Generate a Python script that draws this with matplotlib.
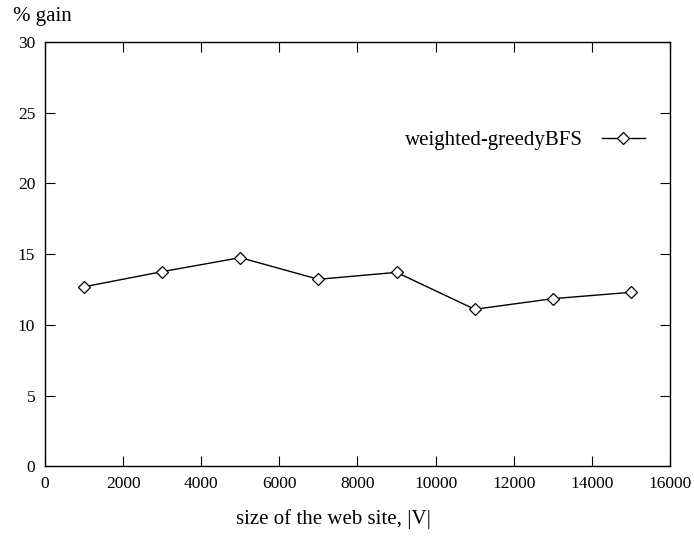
import matplotlib
matplotlib.use("Agg")
import matplotlib.pyplot as plt

sizes = [1000, 3000, 5000, 7000, 9000, 11000, 13000, 15000]
gain = [12.7, 13.77, 14.76, 13.23, 13.72, 11.11, 11.86, 12.31]
xticks = [0, 2000, 4000, 6000, 8000, 10000, 12000, 14000, 16000]
yticks = [0, 5, 10, 15, 20, 25, 30]

plt.rcParams['font.family'] = ['Liberation Serif', 'DejaVu Serif']
fs = 15
tfs = 12.5

fig = plt.figure(figsize=(6.94, 5.37), dpi=100)
ax = fig.add_axes([0.0648, 0.1313, 0.9006, 0.7905])
ax.plot(sizes, gain, color='black', lw=1.0, marker='D', markersize=6.5,
        markerfacecolor='white', markeredgecolor='black', markeredgewidth=0.9,
        label='weighted-greedyBFS')
ax.set_xlim(0, 16000)
ax.set_ylim(0, 30)
ax.set_xticks(xticks)
ax.set_yticks(yticks)
ax.tick_params(direction='in', length=7, width=0.8, top=True, right=True,
               labelsize=tfs, pad=7)
for s in ax.spines.values():
    s.set_linewidth(1.0)
ax.set_xlabel('size of the web site, |V|', fontsize=fs, labelpad=12, x=0.461)
fig.text(13/694, 1 - 17/537, '% gain', fontsize=fs, ha='left', va='center')
ax.legend(loc='center right', bbox_to_anchor=(0.96, 0.769), frameon=False,
          markerfirst=False, fontsize=fs, handlelength=2.07, handletextpad=0.91,
          borderpad=0, borderaxespad=0)
fig.savefig('out.png', dpi=100)
